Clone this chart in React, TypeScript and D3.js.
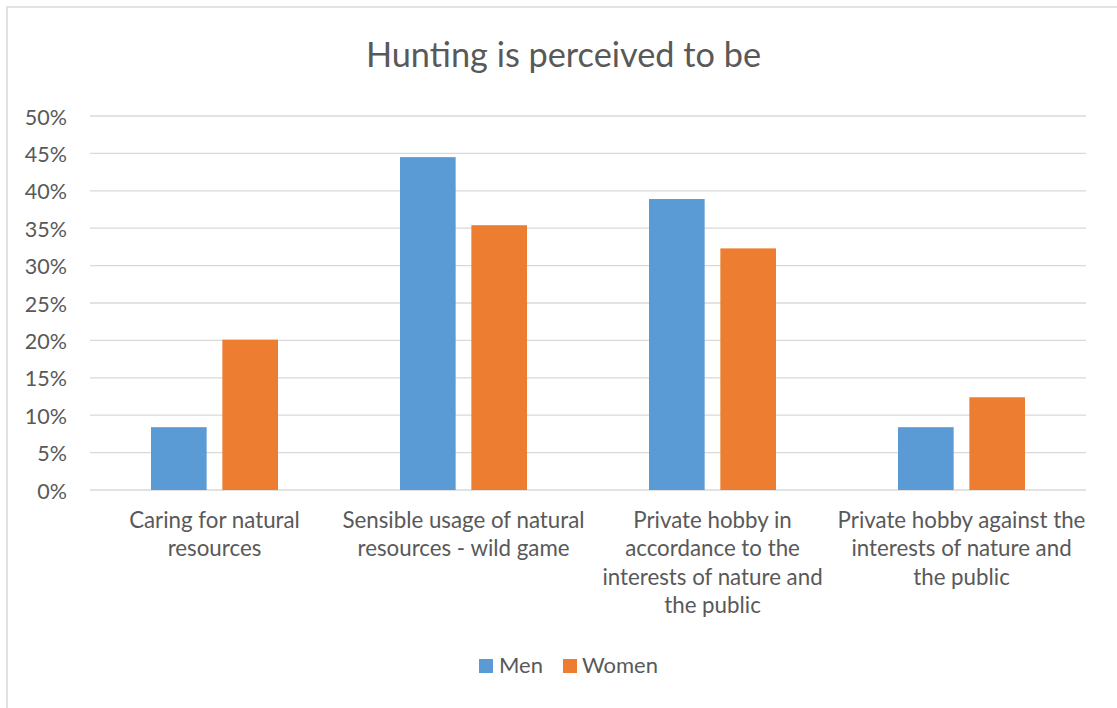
import React from "react";
import * as d3 from "d3";

const categories: string[][] = [
  ["Caring for natural", "resources"],
  ["Sensible usage of natural", "resources - wild game"],
  ["Private hobby in", "accordance to the", "interests of nature and", "the public"],
  ["Private hobby against the", "interests of nature and", "the public"],
];
const seriesNames = ["Men", "Women"];
const menValues = [8.4, 44.5, 38.9, 8.4];
const womenValues = [20.1, 35.4, 32.3, 12.4];
const yTicks = [0, 5, 10, 15, 20, 25, 30, 35, 40, 45, 50];
const colors = ["#5B9BD5", "#ED7D31"];

const W = 1117;
const H = 708;
const FONT = "Lato, 'Open Sans', sans-serif";
const TEXT = "#595959";

export default function App() {
  const left = 90;
  const right = 1086;
  const top = 116;
  const bottom = 490;
  const idx = categories.map((_, i) => i);
  const x0 = d3.scaleBand<number>().domain(idx).range([left, right]).paddingInner(0.49).paddingOuter(0.245);
  const x1 = d3.scaleBand<number>().domain([0, 1]).range([0, x0.bandwidth()]).paddingInner(0.22);
  const y = d3.scaleLinear().domain([0, 50]).range([bottom, top]);
  const series = [menValues, womenValues];
  const catCenter = (i: number) => (x0(i) as number) + x0.bandwidth() / 2;

  return (
    <svg width={W} height={H} style={{ position: "fixed", left: 0, top: 0, background: "#fff" }} fontFamily={FONT}>
      <rect x={0} y={0} width={W} height={H} fill="#fff" />
      <rect x={7} y={7} width={W + 20} height={H + 20} fill="none" stroke="#D9D9D9" strokeWidth={1.5} />
      <text x={563.5} y={67} textAnchor="middle" fontSize={34.3} fill={TEXT}>
        Hunting is perceived to be
      </text>
      {yTicks.map((t) => (
        <g key={t}>
          <line x1={left} x2={right} y1={y(t)} y2={y(t)} stroke="#D9D9D9" strokeWidth={1.3} />
          <text x={67} y={y(t) + 8.5} textAnchor="end" fontSize={21.5} fill={TEXT}>
            {t}%
          </text>
        </g>
      ))}
      {series.map((vals, s) =>
        vals.map((v, i) => (
          <rect
            key={`${s}-${i}`}
            x={(x0(i) as number) + (x1(s) as number)}
            y={y(v)}
            width={x1.bandwidth()}
            height={y(0) - y(v)}
            fill={colors[s]}
          />
        ))
      )}
      {categories.map((lines, i) => (
        <text key={i} textAnchor="middle" fontSize={22.3} fill={TEXT}>
          {lines.map((ln, j) => (
            <tspan key={j} x={catCenter(i)} y={528 + j * 28.3}>
              {ln}
            </tspan>
          ))}
        </text>
      ))}
      <g>
        <rect x={479} y={659} width={14} height={14} fill={colors[0]} />
        <text x={499} y={673} fontSize={22} fill={TEXT}>{seriesNames[0]}</text>
        <rect x={563} y={659} width={14} height={14} fill={colors[1]} />
        <text x={582} y={673} fontSize={22} fill={TEXT}>{seriesNames[1]}</text>
      </g>
    </svg>
  );
}
